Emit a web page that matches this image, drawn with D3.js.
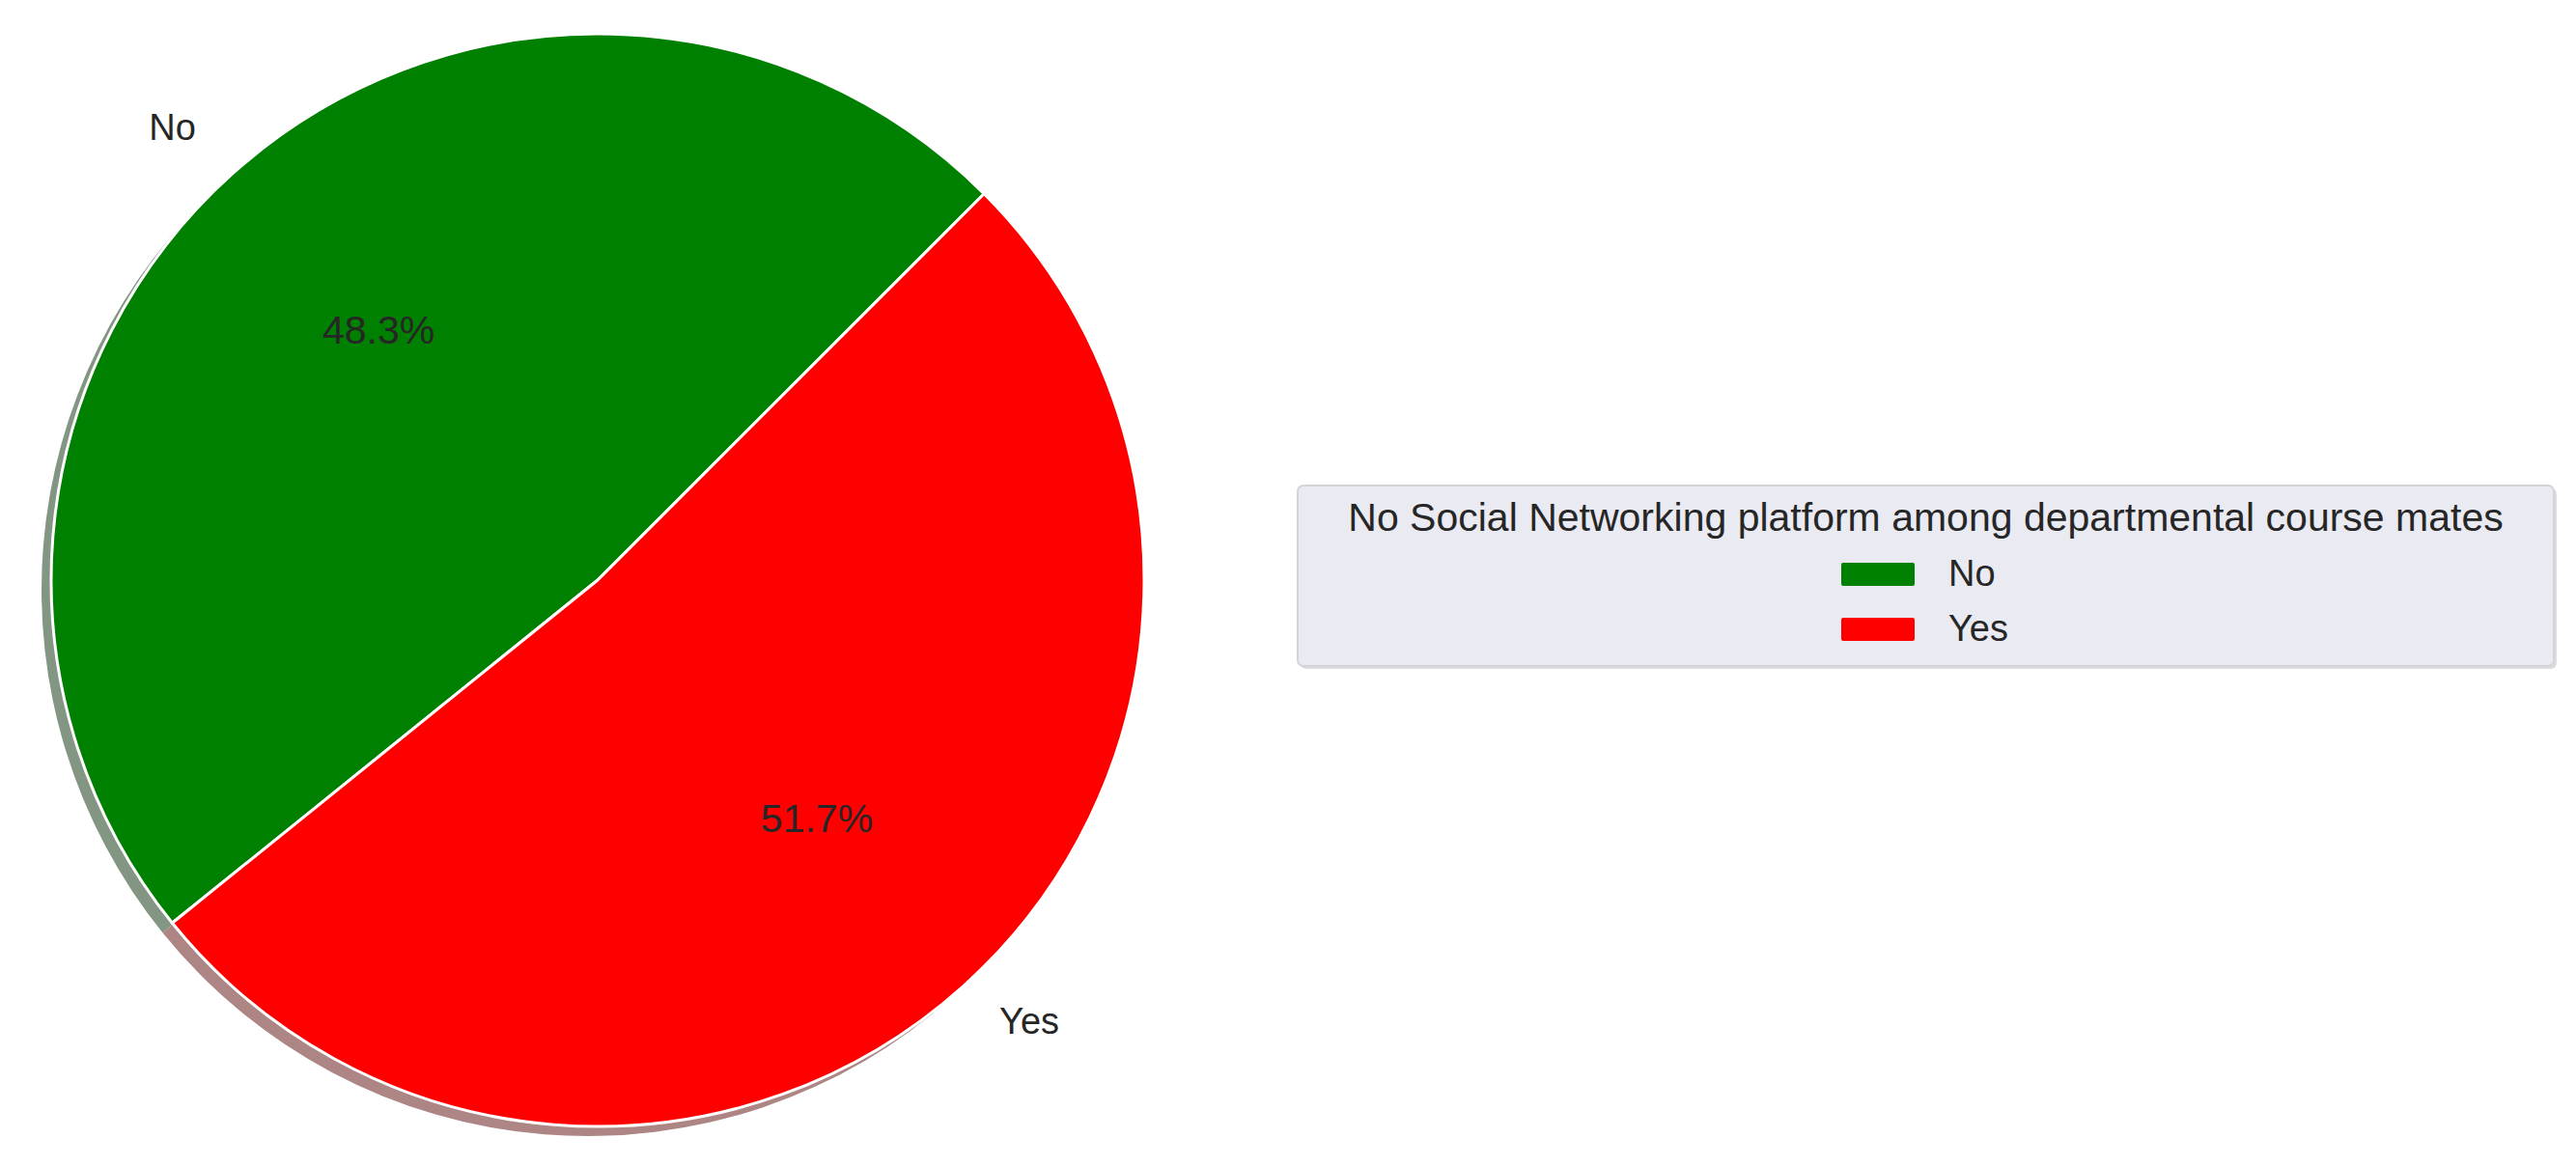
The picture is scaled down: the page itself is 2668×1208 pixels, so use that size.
<!DOCTYPE html>
<html>
<head>
<meta charset="utf-8">
<script src="https://cdn.jsdelivr.net/npm/d3@7"></script>
<style>
  body { margin: 0; background: #fff; }
  text { font-family: "Liberation Sans", Arial, sans-serif; fill: #262626; }
</style>
</head>
<body>
<svg id="chart" width="2668" height="1208"></svg>
<script>
// Data
const categories = ["No", "Yes"];
const percents = [48.3, 51.7];
const colors = ["#008000", "#ff0000"];
const shadowColors = ["#839583", "#ad8585"];
const legendTitle = "No Social Networking platform among departmental course mates";

const width = 2668, height = 1208;
const cx = 619, cy = 601, radius = 566;

const svg = d3.select("#chart");

const data = categories.map((c, i) => ({ label: c, value: percents[i], i }));

// matplotlib style: start at 45deg, counter-clockwise
const pie = d3.pie()
    .sort(null)
    .value(d => d.value)
    .startAngle(Math.PI / 4)
    .endAngle(Math.PI / 4 - 2 * Math.PI);

const arcs = pie(data);
const arc = d3.arc().innerRadius(0).outerRadius(radius);
const labelArc = d3.arc().innerRadius(radius * 1.1).outerRadius(radius * 1.1);
const pctArc = d3.arc().innerRadius(radius * 0.6).outerRadius(radius * 0.6);

// Shadow
svg.append("g")
    .attr("transform", `translate(${cx - 10},${cy + 10})`)
    .selectAll("path")
    .data(arcs)
    .enter()
    .append("path")
        .attr("d", arc)
        .attr("fill", d => shadowColors[d.data.i]);

const g = svg.append("g").attr("transform", `translate(${cx},${cy})`);

// Wedges
g.selectAll(".wedge")
    .data(arcs)
    .enter()
    .append("path")
        .attr("class", "wedge")
        .attr("d", arc)
        .attr("fill", d => colors[d.data.i])
        .attr("stroke", "#ffffff")
        .attr("stroke-width", 3)
        .attr("stroke-linejoin", "round");

// Outer labels
g.selectAll(".lbl")
    .data(arcs)
    .enter()
    .append("text")
        .attr("class", "lbl")
        .attr("x", d => labelArc.centroid(d)[0])
        .attr("y", d => labelArc.centroid(d)[1] - 6)
        .attr("text-anchor", d => labelArc.centroid(d)[0] < 0 ? "end" : "start")
        .attr("dominant-baseline", "central")
        .style("font-size", "38px")
        .text(d => d.data.label);

// Percent labels
g.selectAll(".pct")
    .data(arcs)
    .enter()
    .append("text")
        .attr("class", "pct")
        .attr("x", d => pctArc.centroid(d)[0])
        .attr("y", d => pctArc.centroid(d)[1] - 6)
        .attr("text-anchor", "middle")
        .attr("dominant-baseline", "central")
        .style("font-size", "41px")
        .text(d => d.data.value.toFixed(1) + "%");

// Legend
const lx = 1344, ly = 503, lw = 1301, lh = 187;
const legend = svg.append("g");
legend.append("rect")
    .attr("x", lx + 3).attr("y", ly + 3)
    .attr("width", lw).attr("height", lh)
    .attr("rx", 6)
    .attr("fill", "#dcdcdc");
legend.append("rect")
    .attr("x", lx).attr("y", ly)
    .attr("width", lw).attr("height", lh)
    .attr("rx", 6)
    .attr("fill", "#eaeaf2")
    .attr("stroke", "#d4d4d8")
    .attr("stroke-width", 2);

const midX = lx + lw / 2;
legend.append("text")
    .attr("x", midX)
    .attr("y", 550)
    .attr("text-anchor", "middle")
    .style("font-size", "41px")
    .text(legendTitle);

const items = legend.selectAll(".item")
    .data(data)
    .enter()
    .append("g")
        .attr("class", "item")
        .attr("transform", (d, i) => `translate(1907,${583 + i * 57})`);

items.append("rect")
    .attr("width", 76)
    .attr("height", 24)
    .attr("rx", 2)
    .attr("fill", d => colors[d.i]);

items.append("text")
    .attr("x", 111)
    .attr("y", 24)
    .style("font-size", "38px")
    .text(d => d.label);
</script>
</body>
</html>
